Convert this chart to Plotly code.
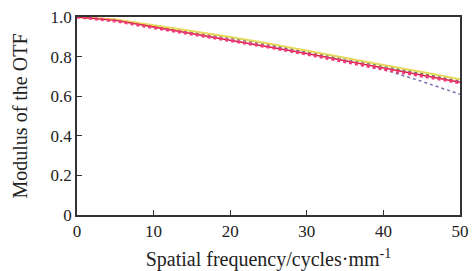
import plotly.graph_objects as go

freq = [0, 5, 10, 15, 20, 25, 30, 35, 40, 45, 50]
yellow = [1.0, 0.988, 0.958, 0.930, 0.899, 0.866, 0.831, 0.795, 0.758, 0.722, 0.686]
gray = [1.0, 0.986, 0.956, 0.927, 0.895, 0.862, 0.827, 0.790, 0.752, 0.714, 0.676]
red = [1.0, 0.983, 0.950, 0.917, 0.885, 0.852, 0.816, 0.779, 0.742, 0.707, 0.671]
pink = [1.0, 0.980, 0.946, 0.913, 0.882, 0.848, 0.812, 0.774, 0.736, 0.702, 0.668]
purple = [1.0, 0.986, 0.955, 0.925, 0.893, 0.858, 0.820, 0.780, 0.735, 0.675, 0.610]

yticks = [0, 0.2, 0.4, 0.6, 0.8, 1.0]
yticklabels = ["0", "0.2", "0.4", "0.6", "0.8", "1.0"]
xticks = [0, 10, 20, 30, 40, 50]

fig = go.Figure()
fig.add_trace(go.Scatter(x=freq, y=purple, mode="lines", line=dict(color="#7a6fb0", width=1.5, dash="dot")))
fig.add_trace(go.Scatter(x=freq, y=gray, mode="lines", line=dict(color="#707070", width=2, dash="dot")))
fig.add_trace(go.Scatter(x=freq, y=yellow, mode="lines", line=dict(color="#e6d85a", width=2)))
fig.add_trace(go.Scatter(x=freq, y=red, mode="lines", line=dict(color="#d8203c", width=1.5)))
fig.add_trace(go.Scatter(x=freq, y=pink, mode="lines", line=dict(color="#f0387a", width=3, dash="dot")))

font = dict(family="Liberation Serif, Times New Roman, serif", size=17, color="#222")
fig.update_layout(
    width=472, height=271,
    margin=dict(l=77, r=12, t=17, b=56),
    plot_bgcolor="white", paper_bgcolor="white",
    showlegend=False,
    font=font,
)
fig.update_xaxes(
    range=[0, 50], tickvals=xticks, ticks="inside", ticklen=5, tickcolor="#333",
    showline=True, linecolor="#333", linewidth=1.5, mirror=True, showgrid=False, zeroline=False,
    automargin=False, ticklabeloverflow="allow",
    title=dict(text="Spatial frequency/cycles·mm<sup>-1</sup>", standoff=16),
)
fig.update_yaxes(
    range=[0, 1.0], tickvals=yticks, ticktext=yticklabels, ticks="inside", ticklen=5, tickcolor="#333",
    showline=True, linecolor="#333", linewidth=1.5, mirror=True, showgrid=False, zeroline=False,
    automargin=False, ticklabeloverflow="allow",
    title=dict(text="Modulus of the OTF", standoff=18),
)
fig.write_html("out.html", config={"displayModeBar": False},
               post_script="document.body.style.margin='0';document.body.style.overflow='hidden';")
